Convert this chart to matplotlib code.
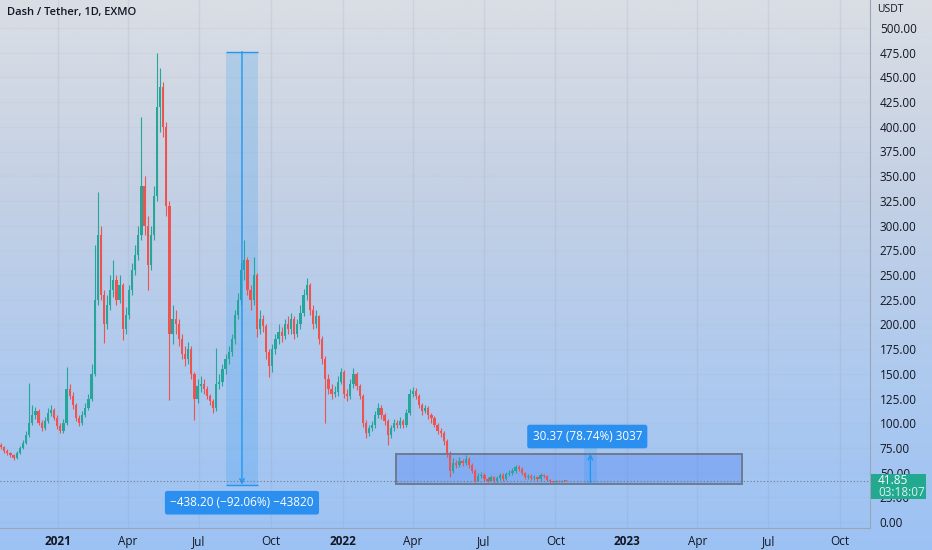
import numpy as np
import matplotlib.pyplot as plt
from matplotlib.patches import Rectangle
from matplotlib.colors import LinearSegmentedColormap

first_open = 78
closes = [76, 72, 70, 68, 65, 70, 75, 80, 88, 100,
          108, 112, 100, 95, 102, 110, 113, 105, 97, 92,
          100, 135, 128, 118, 105, 100, 108, 115, 125, 150,
          225, 290, 230, 200, 220, 235, 245, 225, 240, 195,
          210, 235, 255, 270, 290, 340, 300, 260, 290, 330,
          420, 440, 400, 320, 190, 205, 200, 185, 170, 165,
          175, 150, 125, 138, 140, 135, 128, 122, 115, 140,
          142, 155, 165, 172, 185, 210, 225, 255, 265, 235,
          225, 250, 195, 205, 198, 172, 158, 175, 185, 192,
          188, 200, 195, 205, 190, 200, 212, 230, 240, 215,
          200, 208, 185, 165, 145, 135, 130, 132, 142, 152,
          130, 128, 140, 150, 138, 128, 100, 90, 95, 98,
          108, 115, 108, 102, 88, 95, 100, 98, 102, 98,
          110, 130, 133, 128, 118, 112, 115, 108, 105, 98,
          92, 90, 82, 70, 52, 60, 58, 62, 60, 64,
          58, 52, 42, 47, 48, 44, 42, 46, 41, 45,
          48, 44, 49, 50, 52, 56, 54, 50, 46, 47,
          45, 46, 44, 48, 47, 43, 41, 40, 42, 41,
          42, 41.85]
highs = [80, 77, 74, 71, 69, 72, 77, 83, 92, 141,
         118, 116, 114, 103, 106, 115, 118, 115, 108, 100,
         104, 157, 140, 132, 120, 108, 112, 120, 130, 160,
         280, 334, 300, 235, 230, 250, 265, 250, 250, 242,
         218, 240, 262, 280, 300, 410, 350, 310, 300, 340,
         475, 460, 445, 405, 325, 220, 215, 205, 190, 178,
         182, 178, 152, 145, 148, 145, 138, 130, 125, 176,
         150, 160, 170, 178, 190, 215, 232, 262, 285, 268,
         240, 268, 252, 215, 210, 200, 175, 180, 190, 200,
         197, 205, 208, 212, 208, 205, 220, 236, 247, 242,
         220, 215, 210, 188, 168, 150, 140, 138, 148, 156,
         154, 135, 145, 156, 152, 140, 130, 103, 98, 102,
         112, 120, 118, 110, 104, 98, 104, 103, 106, 104,
         114, 135, 137, 136, 130, 120, 118, 117, 110, 107,
         100, 95, 92, 84, 72, 65, 63, 66, 64, 68,
         66, 60, 54, 50, 51, 50, 46, 48, 47, 47,
         50, 50, 51, 53, 55, 58, 58, 56, 51, 49,
         49, 48, 47, 50, 49, 48, 44, 42, 43, 43,
         43, 43]
lows = [74, 70, 68, 66, 63, 64, 69, 74, 79, 86,
        98, 104, 98, 92, 93, 100, 107, 103, 94, 90,
        90, 98, 124, 114, 102, 97, 98, 106, 113, 122,
        148, 220, 225, 181, 195, 215, 228, 220, 222, 184,
        190, 205, 230, 250, 265, 285, 290, 235, 255, 285,
        325, 395, 390, 310, 123, 180, 190, 178, 165, 158,
        160, 145, 103, 120, 132, 130, 124, 118, 110, 112,
        135, 138, 150, 160, 168, 180, 205, 220, 245, 230,
        215, 220, 187, 190, 192, 165, 147, 152, 170, 180,
        182, 185, 190, 190, 185, 187, 195, 208, 225, 210,
        195, 196, 180, 160, 100, 130, 125, 127, 128, 140,
        126, 122, 125, 136, 134, 124, 96, 85, 87, 92,
        95, 105, 104, 98, 78, 85, 92, 95, 95, 95,
        96, 108, 127, 125, 115, 108, 110, 104, 100, 96,
        89, 86, 78, 66, 46, 50, 55, 56, 57, 58,
        55, 50, 40, 41, 45, 42, 40, 41, 39, 39,
        43, 42, 43, 47, 48, 50, 52, 48, 44, 44,
        43, 43, 42, 42, 45, 41, 39, 38.5, 39, 40,
        40, 41]
first_date = '2020-10-20'
last_price = 41.85

# measurement tools drawn on the chart
drop_dates = ['2021-08-05', '2021-09-14']
drop_prices = [476.05, 37.85]
drop_text = '\u2212438.20 (\u221292.06%) \u221243820'
range_dates = ['2022-03-11', '2023-05-28']
range_prices = [38.57, 68.94]
range_arrow_date = '2022-11-15'
range_text = '30.37 (78.74%) 3037'

tick_dates = ['2021-01-01', '2021-04-01', '2021-07-01', '2021-10-01',
              '2022-01-01', '2022-04-01', '2022-07-01', '2022-10-01',
              '2023-01-01', '2023-04-01', '2023-07-01', '2023-10-01']
tick_labels = ['2021', 'Apr', 'Jul', 'Oct', '2022', 'Apr', 'Jul', 'Oct',
               '2023', 'Apr', 'Jul', 'Oct']
price_ticks = np.arange(0, 501, 25)

UP = '#26a69a'
DOWN = '#ef5350'
BLUE = '#2196f3'
TXT = '#131722'
ORIGIN = np.datetime64('2021-01-01')


def day(d):
    return float((np.datetime64(d) - ORIGIN) / np.timedelta64(1, 'D'))


plt.rcParams['font.family'] = ['Open Sans', 'DejaVu Sans']
W, H = 932, 550
fig = plt.figure(figsize=(W / 100, H / 100), dpi=100)

# gradient background over the whole figure
bg = fig.add_axes([0, 0, 1, 1], zorder=-10)
cmap = LinearSegmentedColormap.from_list(
    'tv', ['#dadee4', '#c5d1e4', '#afcaee', '#9cc2f4'])
bg.imshow(np.linspace(0, 1, 256).reshape(-1, 1), aspect='auto', cmap=cmap,
          extent=[0, 1, 0, 1])
bg.set_axis_off()

ax = fig.add_axes([0, 22 / H, 870 / W, 528 / H])
ax.set_facecolor('none')

x0 = day(first_date)
xs = x0 + 4 * np.arange(len(closes))
opens = np.array([first_open] + closes[:-1], dtype=float)
cl = np.array(closes, dtype=float)
colors = np.where(cl >= opens, UP, DOWN)
ax.vlines(xs, lows, highs, colors=colors, linewidth=0.8, zorder=3)
ax.bar(xs, np.maximum(np.abs(cl - opens), 0.8), bottom=np.minimum(cl, opens),
       width=2.9, color=colors, linewidth=0, zorder=3)

# grid
for d in tick_dates:
    ax.axvline(day(d), color='#8a93a6', alpha=0.16, lw=1, zorder=0)
for p in price_ticks:
    ax.axhline(p, color='#8a93a6', alpha=0.06, lw=1, zorder=0)

# drop measurement
dx0, dx1 = day(drop_dates[0]), day(drop_dates[1])
ax.add_patch(Rectangle((dx0, drop_prices[1]), dx1 - dx0,
                       drop_prices[0] - drop_prices[1],
                       facecolor=BLUE, alpha=0.2, lw=0, zorder=2))
ax.hlines(drop_prices, dx0, dx1, color=BLUE, lw=1, zorder=4)
dmid = (dx0 + dx1) / 2
ax.annotate('', xy=(dmid, drop_prices[1]), xytext=(dmid, drop_prices[0]),
            arrowprops=dict(arrowstyle='->', color=BLUE, lw=1,
                            mutation_scale=8, shrinkA=0, shrinkB=0), zorder=4)
ax.text(dmid, 19.5, drop_text, ha='center', va='center', color='white',
        fontsize=8.5, zorder=6,
        bbox=dict(boxstyle='round,pad=0.45,rounding_size=0.2', fc='#2b8ff0',
                  ec='none'))

# price range measurement
rx0, rx1 = day(range_dates[0]), day(range_dates[1])
ax.add_patch(Rectangle((rx0, range_prices[0]), rx1 - rx0,
                       range_prices[1] - range_prices[0],
                       facecolor='#4a7ff5', alpha=0.35, edgecolor='none',
                       zorder=2))
ax.add_patch(Rectangle((rx0, range_prices[0]), rx1 - rx0,
                       range_prices[1] - range_prices[0],
                       facecolor='none', edgecolor='#6f7a8e', lw=1.4,
                       zorder=4))
ra = day(range_arrow_date)
ax.add_patch(Rectangle((ra - 8, range_prices[0]), 16, 76 - range_prices[0],
                       facecolor=BLUE, alpha=0.18, lw=0, zorder=2))
ax.annotate('', xy=(ra, range_prices[1]), xytext=(ra, range_prices[0]),
            arrowprops=dict(arrowstyle='->', color=BLUE, lw=1,
                            mutation_scale=8, shrinkA=0, shrinkB=0), zorder=4)
ax.text(ra - 4, 86.5, range_text, ha='center', va='center', color='white',
        fontsize=8.5, zorder=6,
        bbox=dict(boxstyle='round,pad=0.45,rounding_size=0.2', fc='#2b8ff0',
                  ec='none'))

# last price line
ax.axhline(last_price, color='#6f7a8e', lw=0.8, ls=(0, (1, 2)), zorder=5)

ax.set_xlim((0 - 58) / 0.7795, (870 - 58) / 0.7795)
ax.set_ylim((522 - 528) / 0.988, 522 / 0.988)

ax.set_xticks([day(d) for d in tick_dates])
ax.set_xticklabels(tick_labels, fontsize=8.5, color=TXT)
for lbl in ax.get_xticklabels():
    if lbl.get_text().isdigit():
        lbl.set_fontweight('bold')
ax.tick_params(axis='x', length=0, pad=5)

ax.yaxis.tick_right()
ax.set_yticks(price_ticks)
ax.set_yticklabels([f'{p:.2f}' for p in price_ticks], fontsize=8.5,
                   color=TXT)
ax.tick_params(axis='y', length=0, pad=7)

for side in ['top', 'left']:
    ax.spines[side].set_visible(False)
for side in ['right', 'bottom']:
    ax.spines[side].set_color('#9aa6b8')
    ax.spines[side].set_linewidth(0.8)

# header and axis unit
fig.text(7 / W, 1 - 13 / H, 'Dash / Tether, 1D, EXMO', fontsize=8,
         fontweight='semibold', color=TXT, va='center', ha='left')
fig.text(877 / W, 1 - 10 / H, 'USDT', fontsize=7.5, color=TXT, va='center',
         ha='left')

# last price tag on the price scale
fig.patches.append(Rectangle((871 / W, 1 - 499 / H), 55 / W, 25 / H,
                             transform=fig.transFigure, facecolor='#22a98f',
                             edgecolor='none', zorder=10))
fig.text(878 / W, 1 - 480 / H, f'{last_price:.2f}', fontsize=8.5,
         color='white', va='center', ha='left', zorder=11)
fig.text(878 / W, 1 - 493 / H, '03:18:07', fontsize=8.5, color='#d8f3ee',
         va='center', ha='left', zorder=11)

fig.savefig('out.png', dpi=100)
